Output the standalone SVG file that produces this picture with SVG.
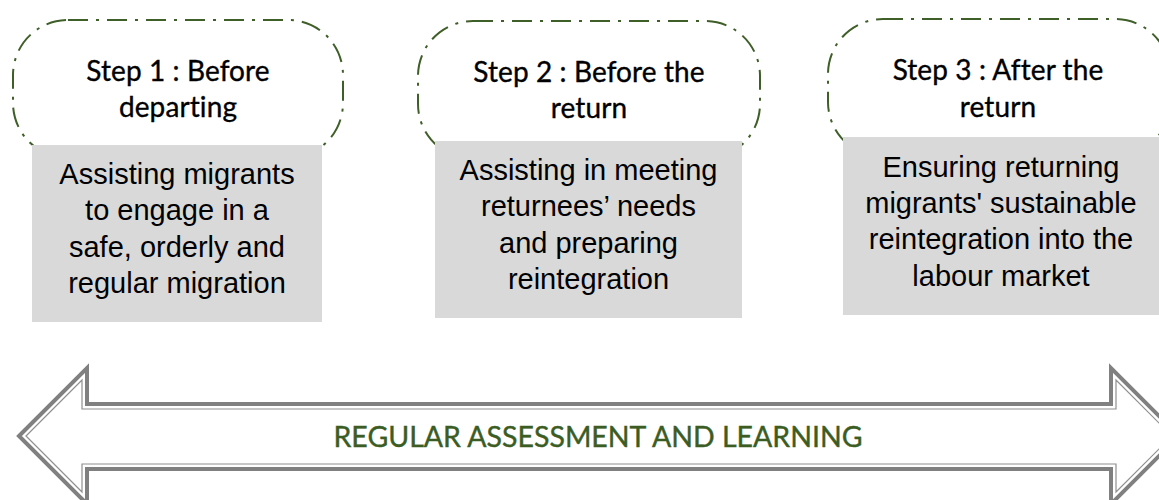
<svg xmlns="http://www.w3.org/2000/svg" width="1159" height="500" viewBox="0 0 1159 500">
<style>
.step{fill:none;stroke:#3F5F28;stroke-width:2;stroke-dasharray:20 8 3 8}
.box{fill:#D9D9D9}
.lbl{font-family:"Lato","Open Sans",sans-serif;font-size:28px;fill:#000;text-anchor:middle;font-variant-ligatures:none;letter-spacing:0.1px;stroke:#000;stroke-width:0.35}
.txt{font-family:"Liberation Sans",Arial,sans-serif;font-size:29px;fill:#000;text-anchor:middle}
.arrOut{fill:#fff;stroke:#808080;stroke-width:4;stroke-linejoin:miter}
.arrIn{fill:none;stroke:#909090;stroke-width:1.2;stroke-linejoin:miter}
.atxt{font-family:"Lato","Open Sans",sans-serif;font-size:28.5px;fill:#3B5D23;text-anchor:middle;stroke:#3B5D23;stroke-width:0.4}
</style>
<rect width="1159" height="500" fill="#fff"/>
<g id="connectors">
<g id="arrow">
<polygon class="arrOut" points="19,436 87,368 87,404 1111,404 1111,368 1179,436 1111,504 1111,469 87,469 87,504"/>
<polygon class="arrIn" points="26,436 82,380 82,409 1116,409 1116,380 1172,436 1116,492 1116,464 82,464 82,492"/>
<text class="atxt" x="598" y="447">REGULAR ASSESSMENT AND LEARNING</text>
</g>
</g>
<g id="node1">
<rect class="step" x="13" y="20" width="330" height="138" rx="55" ry="55"/>
<text class="lbl" x="178" y="81">Step 1 : Before</text>
<text class="lbl" x="178" y="117">departing</text>
<rect class="box" x="32" y="145" width="290" height="177"/>
<text class="txt" x="177" y="184">Assisting migrants</text>
<text class="txt" x="177" y="220">to engage in a</text>
<text class="txt" x="177" y="257">safe, orderly and</text>
<text class="txt" x="177" y="293">regular migration</text>
</g>
<g id="node2">
<rect class="step" x="418" y="21" width="342" height="138" rx="55" ry="55"/>
<text class="lbl" x="589" y="82">Step 2 : Before the</text>
<text class="lbl" x="589" y="118">return</text>
<rect class="box" x="435" y="141" width="307" height="177"/>
<text class="txt" x="588.5" y="180">Assisting in meeting</text>
<text class="txt" x="588.5" y="216">returnees’ needs</text>
<text class="txt" x="588.5" y="253">and preparing</text>
<text class="txt" x="588.5" y="289">reintegration</text>
</g>
<g id="node3">
<rect class="step" x="828" y="19" width="342" height="138" rx="55" ry="55"/>
<text class="lbl" x="998" y="80">Step 3 : After the</text>
<text class="lbl" x="998" y="117">return</text>
<rect class="box" x="843" y="137" width="316" height="178"/>
<text class="txt" x="1001" y="177">Ensuring returning</text>
<text class="txt" x="1001" y="213">migrants' sustainable</text>
<text class="txt" x="1001" y="249">reintegration into the</text>
<text class="txt" x="1001" y="286">labour market</text>
</g>
</svg>
